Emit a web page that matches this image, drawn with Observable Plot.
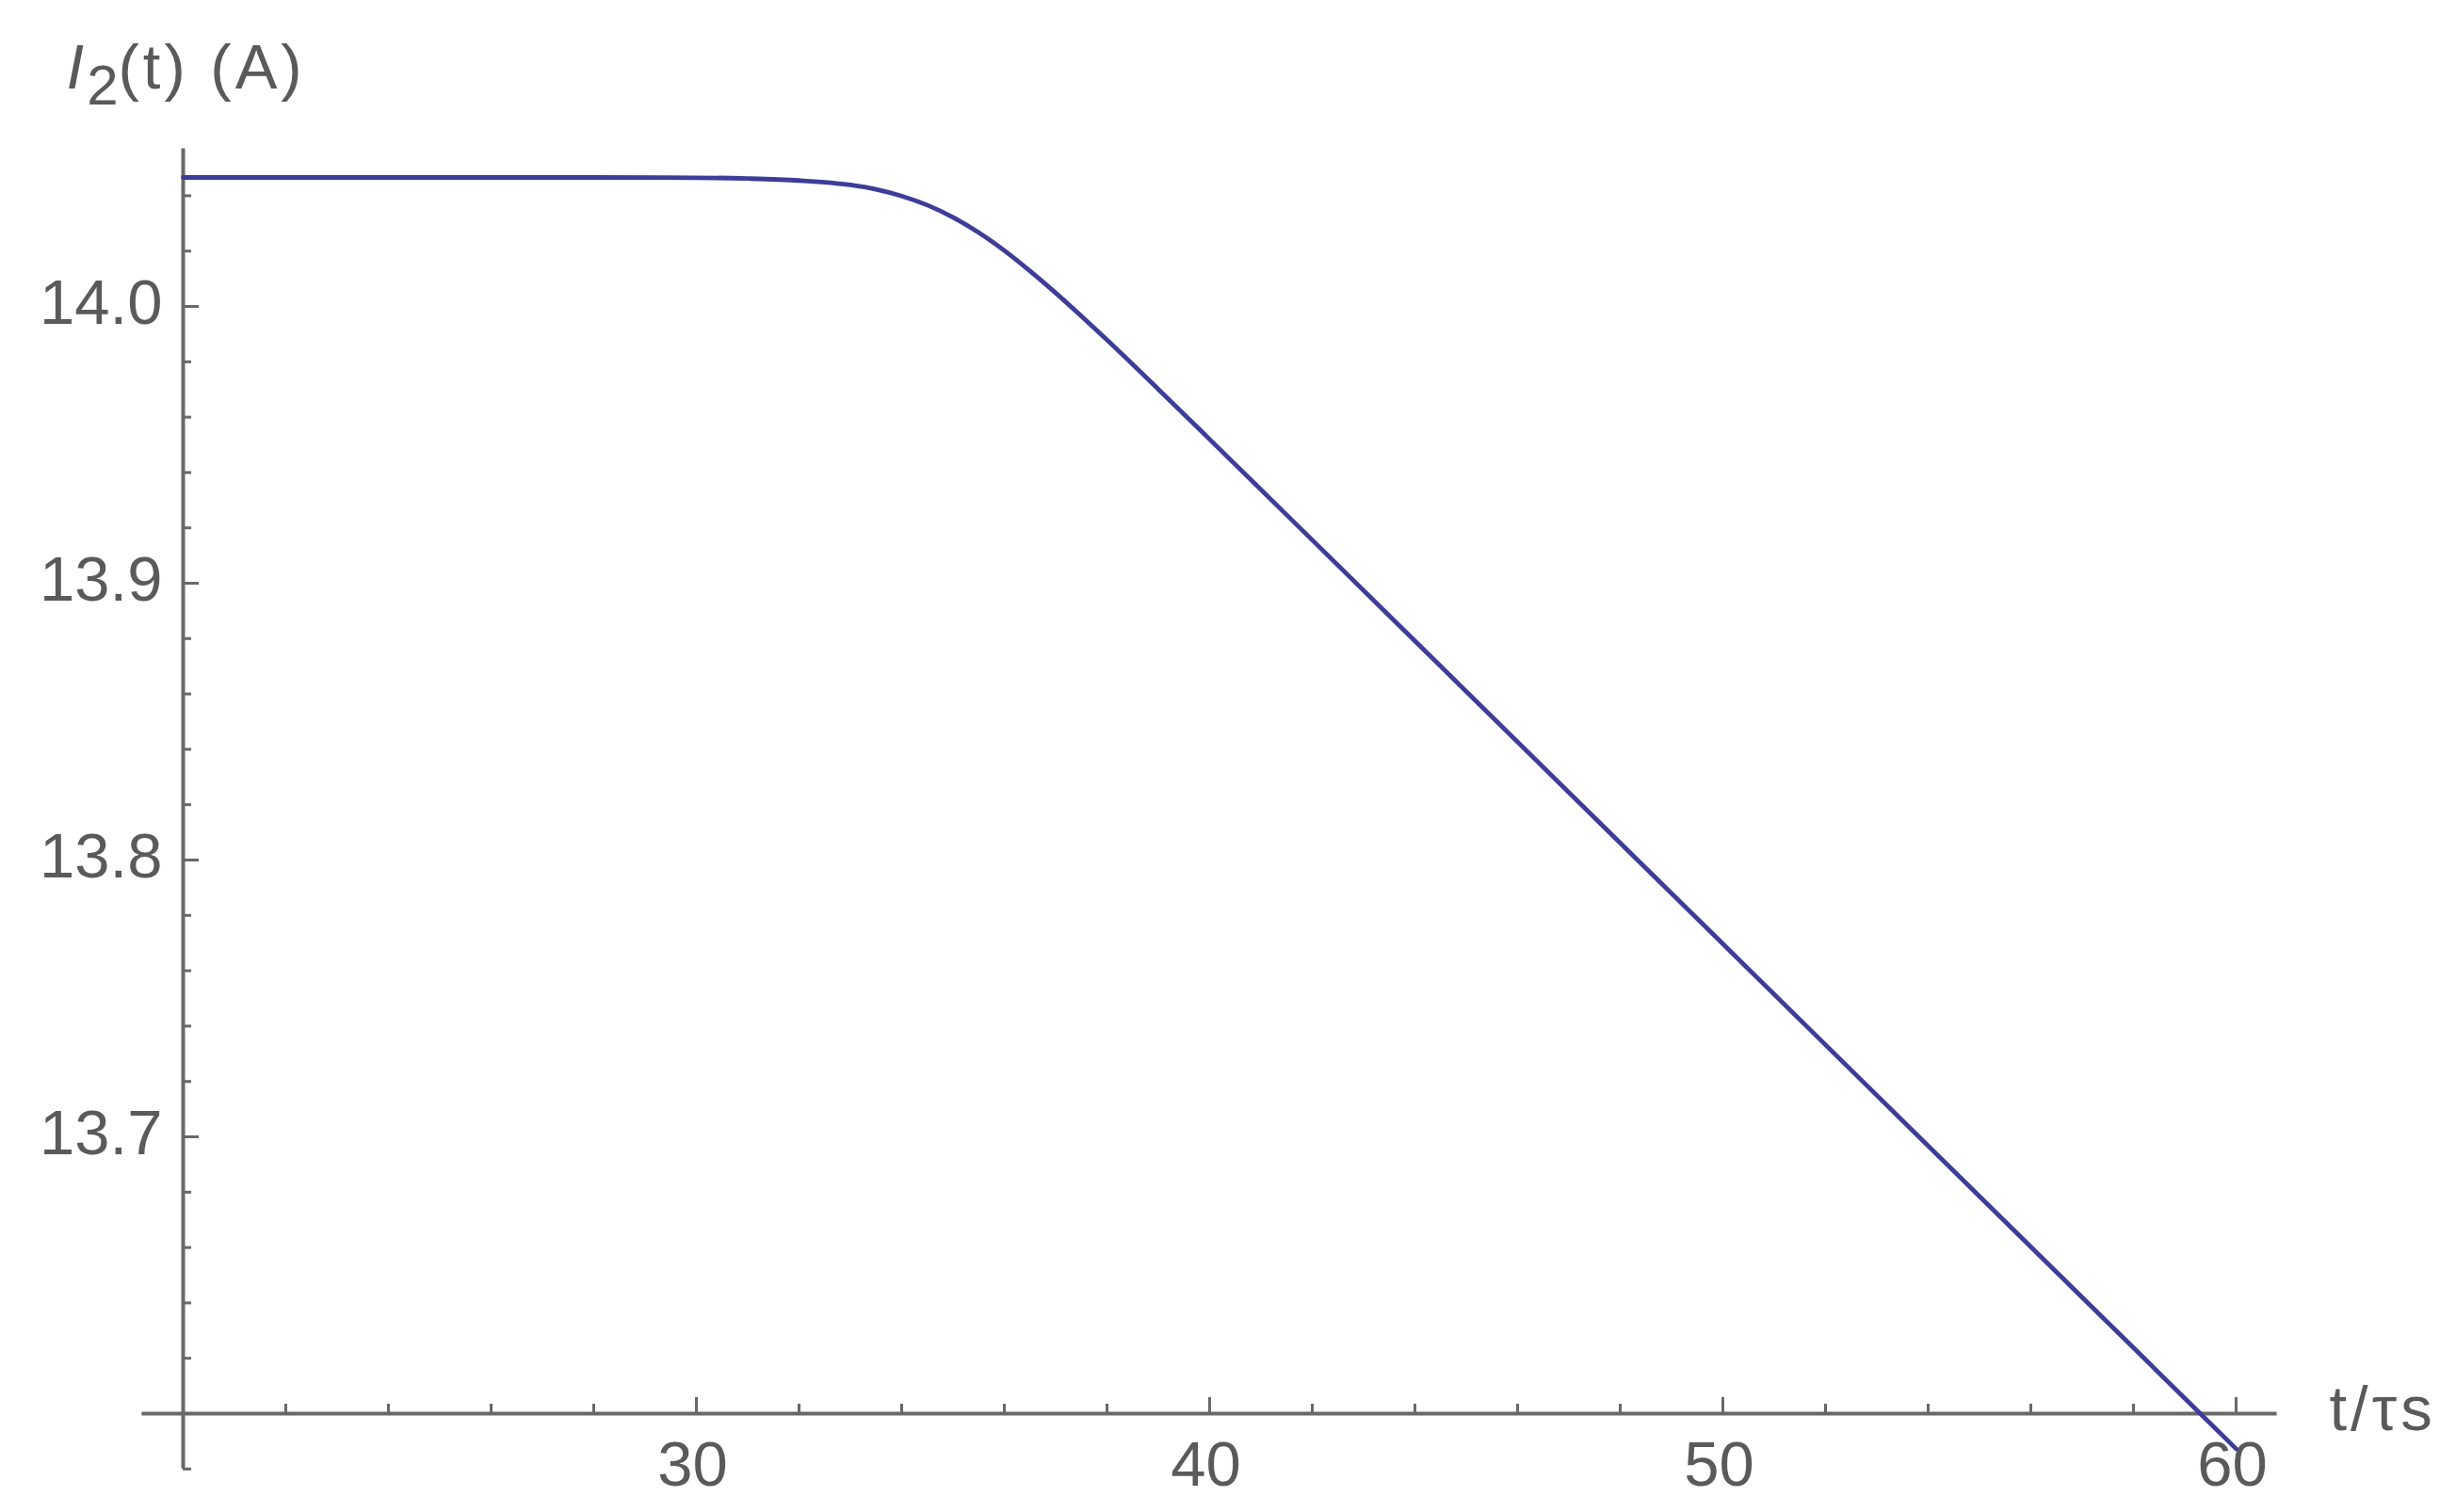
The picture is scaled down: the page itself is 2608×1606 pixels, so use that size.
<!DOCTYPE html>
<html>
<head>
<meta charset="utf-8">
<script src="https://cdn.jsdelivr.net/npm/d3@7"></script>
<script src="https://cdn.jsdelivr.net/npm/@observablehq/plot@0.6"></script>
<style>
  html, body { margin: 0; padding: 0; background: #ffffff; }
</style>
</head>
<body>
<div id="chart"></div>
<script>
// ---- data ----
const tValues = [20, 25, 28, 30, 31, 32, 33, 33.5, 34, 34.5, 35, 35.5, 36, 36.5, 37, 37.5, 38, 39, 40, 42, 45, 50, 55, 60];
const iValues = [14.0466, 14.0466, 14.0466, 14.0465, 14.0462, 14.0455, 14.0439, 14.0423, 14.0399, 14.0366, 14.0322, 14.0267, 14.0202, 14.0128, 14.0049, 13.9965, 13.9879, 13.9701, 13.9520, 13.9156, 13.8609, 13.7697, 13.6785, 13.5873];

const xMajorTicks = [30, 40, 50, 60];
const xMinorTicks = [22, 24, 26, 28, 32, 34, 36, 38, 42, 44, 46, 48, 52, 54, 56, 58];
const yMajorTicks = [13.7, 13.8, 13.9, 14.0];
const yMajorLabels = ["13.7", "13.8", "13.9", "14.0"];
const yMinorTicks = [13.58, 13.62, 13.64, 13.66, 13.68, 13.72, 13.74, 13.76, 13.78, 13.82, 13.84, 13.86, 13.88, 13.92, 13.94, 13.96, 13.98, 14.02, 14.04];

const xDomain = [20, 60];
const yDomain = [13.6, 14.0];
const xAxisExtent = [19.2, 60.8];
const yAxisExtent = [13.58, 14.057];
const yAxisLabelParts = ["I", "2", "(t) (A)"];
const xAxisLabel = "t/τs";

// ---- layout / style ----
const W = 2608, H = 1606;
const mL = 194, mR = 234, mT = 325, mB = 105;
const frameW = W - mL - mR, frameH = H - mT - mB;
const axisColor = "#686868";
const textColor = "#5a5a5a";
const lineColor = "#3d3d99";
const majorLen = 17, minorLen = 10;
const font = "'Liberation Sans', Arial, sans-serif";

const data = tValues.map((t, i) => ({t, v: iValues[i]}));
const yLabelText = yAxisLabelParts.join("");

const svg = Plot.plot({
  width: W,
  height: H,
  marginLeft: mL, marginRight: mR, marginTop: mT, marginBottom: mB,
  style: {fontFamily: font, fontSize: "67px", background: "#ffffff", color: textColor},
  x: {domain: xDomain, axis: null},
  y: {domain: yDomain, axis: null},
  marks: [
    // axis lines
    Plot.ruleY([yDomain[0]], {x1: xAxisExtent[0], x2: xAxisExtent[1], stroke: axisColor, strokeWidth: 4}),
    Plot.ruleX([xDomain[0]], {y1: yAxisExtent[0], y2: yAxisExtent[1], stroke: axisColor, strokeWidth: 4}),
    // x ticks (pointing up from the axis)
    Plot.tickX(xMinorTicks, {x: d => d, insetTop: frameH - minorLen, stroke: axisColor, strokeWidth: 3}),
    Plot.tickX(xMajorTicks, {x: d => d, insetTop: frameH - majorLen, stroke: axisColor, strokeWidth: 3}),
    // y ticks (pointing right from the axis)
    Plot.tickY(yMinorTicks, {y: d => d, insetRight: frameW - 9, stroke: axisColor, strokeWidth: 3}),
    Plot.tickY(yMajorTicks, {y: d => d, insetRight: frameW - majorLen, stroke: axisColor, strokeWidth: 3}),
    // tick labels
    Plot.text(xMajorTicks, {x: d => d, frameAnchor: "bottom", text: d => String(d), dy: 76, dx: -4, lineAnchor: "bottom", textAnchor: "middle", fill: textColor}),
    Plot.text(yMajorTicks, {y: d => d, frameAnchor: "left", text: (d, i) => yMajorLabels[i], dx: -22, dy: 18, lineAnchor: "bottom", textAnchor: "end", fill: textColor}),
    // axis labels
    Plot.text([xAxisLabel], {frameAnchor: "bottom-right", text: d => d, dx: 99, dy: 17, lineAnchor: "bottom", textAnchor: "start", fill: textColor, style: "letter-spacing: 4px"}),
    Plot.text([yLabelText], {frameAnchor: "top-left", text: d => d, dx: -124, dy: -232, lineAnchor: "bottom", textAnchor: "start", fill: textColor}),
    // the curve
    Plot.line(data, {x: "t", y: "v", stroke: lineColor, strokeWidth: 4.8, curve: "monotone-x"})
  ]
});

// subscript formatting for the y-axis label
d3.select(svg).selectAll("text").filter(function () { return this.textContent === yLabelText; }).each(function () {
  const t = d3.select(this);
  t.text(null);
  t.append("tspan").attr("font-style", "italic").text(yAxisLabelParts[0]);
  t.append("tspan").attr("font-size", 60).attr("dy", 17).attr("dx", 3).text(yAxisLabelParts[1]);
  t.append("tspan").attr("dy", -17).attr("letter-spacing", 4).text(yAxisLabelParts[2]);
});
d3.select(svg).selectAll("text").filter(function () { return this.textContent === xAxisLabel; }).attr("letter-spacing", 4);

document.getElementById("chart").appendChild(svg);
</script>
</body>
</html>
